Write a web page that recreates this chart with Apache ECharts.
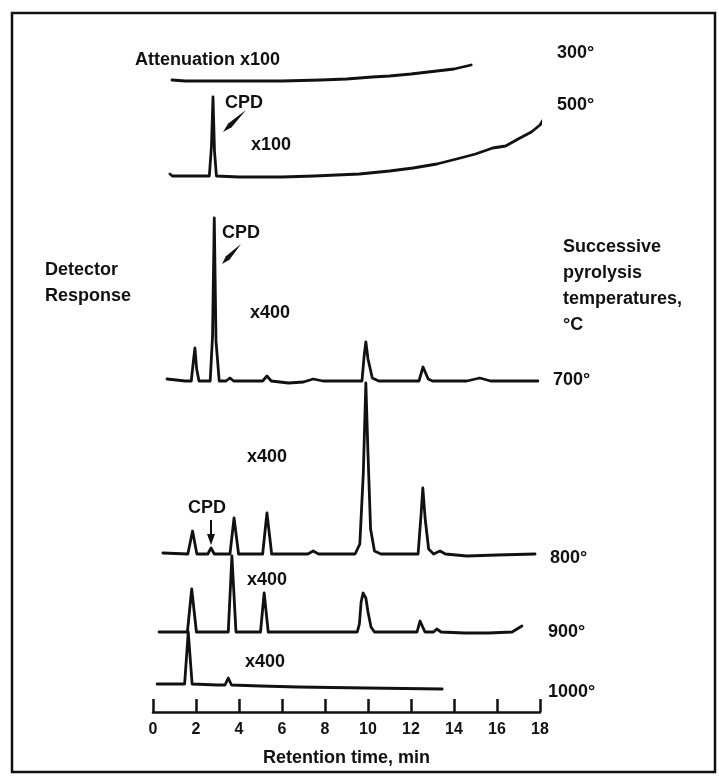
<!DOCTYPE html>
<html>
<head>
<meta charset="utf-8">
<title>Successive pyrolysis chromatograms</title>
<script src="https://cdn.jsdelivr.net/npm/echarts@6/dist/echarts.min.js"></script>
<style>
html, body { margin: 0; padding: 0; background: #fff; }
#chart { width: 719px; height: 779px; }
</style>
</head>
<body>
<div id="chart"></div>
<script>
// retention time axis (min)
var timeMin = 0;
var timeMax = 18;
var timeStep = 2;

// successive pyrolysis temperatures, one trace each, top to bottom
var temps = ['300°', '500°', '700°', '800°', '900°', '1000°'];
// where each trace's baseline sits above the time axis (response units)
var offsets = [631, 536, 331, 158, 80, 28];

// [retention time, detector response above the trace's own baseline]
var trace300 = [[0.88, 1], [1.5, 0], [4.0, 0], [6.0, 0], [7.8, 1], [9.0, 2], [10.2, 4],
    [11.0, 5], [12.0, 7], [13.2, 10], [14.0, 12], [14.8, 16]];
var trace500 = [[0.79, 2], [0.9, 0], [2.0, 0], [2.62, 0], [2.72, 30], [2.79, 79], [2.86, 25],
    [2.95, 0], [4.0, -1], [6.0, -1], [7.5, 0], [9.6, 2], [11.0, 5], [12.1, 8], [13.2, 12],
    [14.3, 18], [15.0, 22], [15.8, 28], [16.4, 30], [17.07, 38], [17.6, 44], [18.0, 51], [18.28, 61]];
var trace700 = [[0.65, 2], [0.72, 0], [1.5, 0], [1.78, 0], [1.88, 20], [1.95, 33], [2.03, 12],
    [2.14, 0], [2.4, 0], [2.66, 0], [2.77, 45], [2.85, 163], [2.93, 40], [3.08, 0], [3.4, 0],
    [3.58, 3], [3.75, 0], [4.5, 0], [5.1, 0], [5.3, 5], [5.5, 0], [6.3, -2], [7.0, -1],
    [7.45, 2], [7.9, 0], [9.0, 0], [9.72, 0], [9.82, 25], [9.9, 39], [10.0, 22], [10.2, 3],
    [10.5, 0], [12.0, 0], [12.37, 0], [12.56, 14], [12.8, 2], [13.0, 0], [14.6, 0], [15.2, 3],
    [15.7, 0], [17.9, 0]];
var trace800 = [[0.46, 1], [0.55, 0], [1.62, 0], [1.84, 23], [2.04, 0], [2.55, 0], [2.7, 6],
    [2.85, 0], [3.58, 0], [3.77, 36], [3.98, 0], [5.1, 0], [5.3, 41], [5.52, 0], [7.2, 0],
    [7.45, 3], [7.7, 0], [9.4, 0], [9.62, 10], [9.78, 80], [9.9, 171], [10.0, 100], [10.12, 25],
    [10.3, 3], [10.6, 0], [12.33, 0], [12.47, 40], [12.55, 66], [12.66, 35], [12.82, 5],
    [13.05, 0], [13.35, 3], [13.6, 0], [14.6, -2], [16.0, -1], [17.77, 0]];
var trace900 = [[0.28, 0], [1.6, 0], [1.8, 43], [2.02, 0], [3.5, 0], [3.67, 76], [3.86, 0],
    [5.0, 0], [5.17, 39], [5.36, 0], [9.5, 0], [9.6, 8], [9.68, 30], [9.77, 39], [9.9, 34],
    [10.0, 20], [10.14, 5], [10.3, 0], [12.28, 0], [12.42, 11], [12.65, 0], [13.05, 0],
    [13.2, 3], [13.4, 0], [14.5, -1], [15.6, -1], [16.7, 0], [16.93, 3], [17.16, 6]];
var trace1000 = [[0.19, 0], [1.47, 0], [1.64, 52], [1.82, 0], [3.0, -1], [3.35, -1], [3.5, 6],
    [3.65, -1], [5.0, -2], [6.75, -3], [9.9, -4], [13.45, -5]];

var traces = [trace300, trace500, trace700, trace800, trace900, trace1000];

var FONT = "'Liberation Sans', Arial, Helvetica, sans-serif";
var INK = '#111';

var chart = echarts.init(document.getElementById('chart'));

function txt(s, x, y, size) {
    return {
        type: 'text', x: x, y: y, silent: true,
        style: {
            text: s, fill: INK, fontFamily: FONT, fontWeight: 'bold',
            fontSize: size || 18, verticalAlign: 'middle', lineHeight: 26
        }
    };
}

function dart(pts) {
    return { type: 'polygon', silent: true, shape: { points: pts }, style: { fill: INK } };
}

var series = traces.map(function (tr, i) {
    return {
        name: temps[i],
        type: 'line',
        data: tr.map(function (p) { return [p[0], p[1] + offsets[i]]; }),
        symbol: 'none',
        smooth: false,
        clip: false,
        silent: true,
        lineStyle: { color: INK, width: 2.8, join: 'round', cap: 'round' }
    };
});

// labels and arrows
var labels = [
    txt('Attenuation x100', 135, 60),
    txt('x100', 251, 145),
    txt('CPD', 225, 103),
    txt('CPD', 222, 233),
    txt('x400', 250, 313),
    txt('x400', 247, 457),
    txt('CPD', 188, 508),
    txt('x400', 247, 580),
    txt('x400', 245, 662),
    txt('Detector\nResponse', 45, 283),
    txt('Successive\npyrolysis\ntemperatures,\n°C', 563, 286),
    dart([[246, 110], [231.6, 127.2], [223, 132], [228.2, 123.6]]),
    dart([[241, 244], [229.5, 259.7], [222, 264], [225.9, 256.3]]),
    { type: 'line', silent: true, shape: { x1: 211, y1: 520, x2: 211, y2: 536 },
      style: { stroke: INK, lineWidth: 2 } },
    dart([[207, 534], [215, 534], [211, 545]]),
    { type: 'rect', silent: true, shape: { x: 12, y: 13, width: 703, height: 759 },
      style: { fill: 'none', stroke: INK, lineWidth: 2.5 } }
];
var tempPos = [[557, 53], [557, 105], [553, 380], [550, 558], [548, 632], [548, 692]];
temps.forEach(function (t, i) {
    labels.push(txt(t, tempPos[i][0], tempPos[i][1]));
});

chart.setOption({
    animation: false,
    backgroundColor: '#fff',
    grid: { left: 153, right: 179, top: 12, bottom: 67, containLabel: false },
    xAxis: {
        type: 'value',
        min: timeMin,
        max: timeMax,
        interval: timeStep,
        name: 'Retention time, min',
        nameLocation: 'middle',
        nameGap: 37,
        nameTextStyle: { color: INK, fontFamily: FONT, fontWeight: 'bold', fontSize: 18 },
        axisLine: { show: true, lineStyle: { color: INK, width: 2.5 } },
        axisTick: { show: true, inside: true, length: 13, lineStyle: { color: INK, width: 2.5 } },
        axisLabel: { color: INK, fontFamily: FONT, fontWeight: 'bold', fontSize: 16, margin: 10 },
        splitLine: { show: false }
    },
    yAxis: { type: 'value', min: 0, max: 700, show: false },
    series: series,
    graphic: labels
});
</script>
</body>
</html>
